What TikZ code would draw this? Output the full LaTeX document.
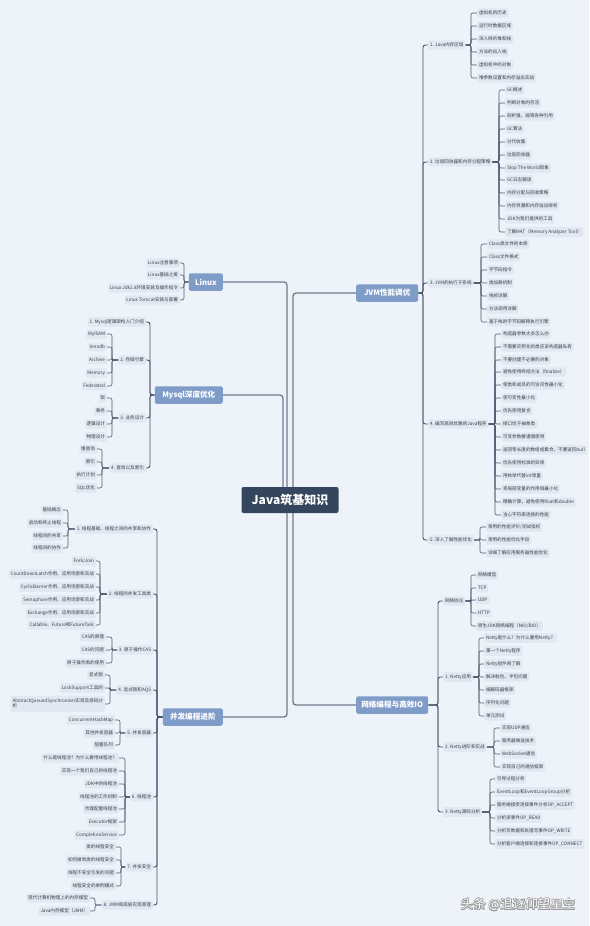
\documentclass[tikz,border=0pt]{standalone}
\usepackage{fontspec}
\setmainfont{Noto Sans CJK SC}
\usepackage{contour}
\usetikzlibrary{backgrounds}
\definecolor{bg}{HTML}{EEF3FA}
\definecolor{leaffill}{HTML}{E1E8F1}
\definecolor{txt}{HTML}{3A3F48}
\definecolor{mainfill}{HTML}{7F9CC8}
\definecolor{ctrfill}{HTML}{34465E}
\definecolor{lline}{HTML}{4D5B70}
\definecolor{sline}{HTML}{44536A}
\definecolor{mline}{HTML}{6E7B8E}
\newcommand\rleaf[7][lconn]{%
  \node[leaf,anchor=west] (#2) at (#5,#6) {#7};
  \begin{scope}[on background layer]\draw[#1] (#3.east) -- (#4,0 |- #3.east) |- (#2.west);\end{scope}}
\newcommand\lleaf[7][lconn]{%
  \node[leaf,anchor=east] (#2) at (#5,#6) {#7};
  \begin{scope}[on background layer]\draw[#1] (#3.west) -- (#4,0 |- #3.west) |- (#2.east);\end{scope}}
\begin{document}
\begin{tikzpicture}[x=1pt,y=-1pt,
  leaf/.style={font=\fontsize{4.6}{5.6}\selectfont, text=txt, fill=leaffill, rounded corners=1.5pt, inner xsep=1.8pt, inner ysep=2.5pt},
  mainnode/.style={font=\fontsize{7.6}{9}\selectfont\bfseries, text=white, fill=mainfill, rounded corners=2pt, minimum height=17.5pt, inner sep=2pt},
  lconn/.style={draw=lline, line width=0.6pt, rounded corners=2pt},
  sconn/.style={draw=sline, line width=0.9pt, rounded corners=2.5pt},
  mconn/.style={draw=mline, line width=1.3pt, rounded corners=3pt}]
\useasboundingbox (0,0) rectangle (589,926);
\begin{scope}[on background layer]
\fill[bg] (0,0) rectangle (589,926);
\end{scope}

% centre and main branches
\node[fill=ctrfill, text=white, font=\fontsize{12}{14}\selectfont\bfseries, minimum width=97pt, minimum height=26pt, rounded corners=2pt] (ctr) at (290,500) {Java筑基知识};
\node[mainnode,minimum width=34pt,anchor=east] (linux) at (223,282) {Linux};
\node[mainnode,minimum width=68pt,anchor=east] (mysql) at (223,395) {Mysql深度优化};
\node[mainnode,minimum width=60pt,anchor=east] (conc) at (223,717) {并发编程进阶};
\node[mainnode,minimum width=62pt,anchor=west] (jvm) at (356,293) {JVM性能调优};
\node[mainnode,minimum width=72pt,anchor=west] (net) at (356,705) {网络编程与高效IO};
\begin{scope}[on background layer]
\draw[mconn] (ctr.center -| 287,0) |- (linux.east);
\draw[mconn] (ctr.center -| 287,0) |- (conc.east);
\draw[mconn] (ctr.center -| 283,0) |- (mysql.east);
\draw[mconn] (ctr.center -| 293,0) |- (jvm.west);
\draw[mconn] (ctr.center -| 293,0) |- (net.west);
\end{scope}

% ---------------- JVM ----------------
\rleaf[sconn]{j1}{jvm}{423}{428}{45}{1. Java内存区域}
\rleaf[sconn]{j2}{jvm}{423}{428}{162}{2. 垃圾回收器和内存分配策略}
\rleaf[sconn]{j3}{jvm}{423}{428}{283}{3. JVM的执行子系统}
\rleaf[sconn]{j4}{jvm}{423}{428}{424}{4. 编写高效优雅的Java程序}
\rleaf[sconn]{j5}{jvm}{423}{428}{540}{5. 深入了解性能优化}

\rleaf{j1a}{j1}{471}{477}{13}{虚拟机的历史}
\rleaf{j1b}{j1}{471}{477}{26}{运行时数据区域}
\rleaf{j1c}{j1}{471}{477}{39}{深入辨析堆和栈}
\rleaf{j1d}{j1}{471}{477}{52}{方法的出入栈}
\rleaf{j1e}{j1}{471}{477}{65}{虚拟机中的对象}
\rleaf{j1f}{j1}{471}{477}{78}{堆参数设置和内存溢出实战}

\rleaf{j2a}{j2}{499}{505}{90}{GC概述}
\rleaf{j2b}{j2}{499}{505}{103}{判断对象的存活}
\rleaf{j2c}{j2}{499}{505}{116}{剖析强、弱等各种引用}
\rleaf{j2d}{j2}{499}{505}{129}{GC算法}
\rleaf{j2e}{j2}{499}{505}{142}{分代收集}
\rleaf{j2f}{j2}{499}{505}{155}{垃圾回收器}
\rleaf{j2g}{j2}{499}{505}{168}{Stop The World现象}
\rleaf{j2h}{j2}{499}{505}{180}{GC日志解读}
\rleaf{j2i}{j2}{499}{505}{193}{内存分配与回收策略}
\rleaf{j2j}{j2}{499}{505}{206}{内存泄漏和内存溢出辨析}
\rleaf{j2k}{j2}{499}{505}{219}{JDK为我们提供的工具}
\rleaf{j2l}{j2}{499}{505}{232}{了解MAT（Memory Analyzer Tool）}

\rleaf{j3a}{j3}{481}{487}{244}{Class类文件的本质}
\rleaf{j3b}{j3}{481}{487}{257}{Class文件格式}
\rleaf{j3c}{j3}{481}{487}{270}{字节码指令}
\rleaf{j3d}{j3}{481}{487}{283}{类加载机制}
\rleaf{j3e}{j3}{481}{487}{296}{栈帧详解}
\rleaf{j3f}{j3}{481}{487}{309}{方法调用详解}
\rleaf{j3g}{j3}{481}{487}{322}{基于栈的字节码解释执行引擎}

\rleaf{j4a}{j4}{495}{501}{334}{构造器参数太多怎么办}
\rleaf{j4b}{j4}{495}{501}{347}{不需要实例化的类应该构造器私有}
\rleaf{j4c}{j4}{495}{501}{360}{不要创建不必要的对象}
\rleaf{j4d}{j4}{495}{501}{372}{避免使用终结方法（finalize）}
\rleaf{j4e}{j4}{495}{501}{385}{使类和成员的可访问性最小化}
\rleaf{j4f}{j4}{495}{501}{398}{使可变性最小化}
\rleaf{j4g}{j4}{495}{501}{411}{优先使用复合}
\rleaf{j4h}{j4}{495}{501}{424}{接口优于抽象类}
\rleaf{j4i}{j4}{495}{501}{437}{可变参数要谨慎使用}
\rleaf{j4j}{j4}{495}{501}{450}{返回零长度的数组或集合，不要返回null}
\rleaf{j4k}{j4}{495}{501}{463}{优先使用标准的异常}
\rleaf{j4l}{j4}{495}{501}{476}{用枚举代替int常量}
\rleaf{j4m}{j4}{495}{501}{489}{将局部变量的作用域最小化}
\rleaf{j4n}{j4}{495}{501}{502}{精确计算，避免使用float和double}
\rleaf{j4o}{j4}{495}{501}{515}{当心字符串连接的性能}

\rleaf{j5a}{j5}{480}{486}{527}{常用的性能评价/测试指标}
\rleaf{j5b}{j5}{480}{486}{540}{常用的性能优化手段}
\rleaf{j5c}{j5}{480}{486}{553}{详细了解应用服务器性能优化}

% ---------------- Network ----------------
\rleaf[sconn]{n0}{net}{438}{443}{601}{网络协议}
\rleaf[sconn]{n1}{net}{438}{443}{677}{1. Netty应用}
\rleaf[sconn]{n2}{net}{438}{443}{747}{2. Netty进阶和实战}
\rleaf[sconn]{n3}{net}{438}{443}{812}{3. Netty源码分析}

\rleaf{n0a}{n0}{471}{476}{575}{网络模型}
\rleaf{n0b}{n0}{471}{476}{588}{TCP}
\rleaf{n0c}{n0}{471}{476}{600}{UDP}
\rleaf{n0d}{n0}{471}{476}{613}{HTTP}
\rleaf{n0e}{n0}{471}{476}{626}{原生JDK网络编程（NIO/BIO）}

\rleaf{n1a}{n1}{479}{484}{638}{Netty是什么？为什么要用Netty？}
\rleaf{n1b}{n1}{479}{484}{651}{第一个Netty程序}
\rleaf{n1c}{n1}{479}{484}{664}{Netty组件再了解}
\rleaf{n1d}{n1}{479}{484}{677}{解决粘包、半包问题}
\rleaf{n1e}{n1}{479}{484}{690}{编解码器框架}
\rleaf{n1f}{n1}{479}{484}{703}{序列化问题}
\rleaf{n1g}{n1}{479}{484}{716}{单元测试}

\rleaf{n2a}{n2}{494}{500}{728}{实现UDP通信}
\rleaf{n2b}{n2}{494}{500}{741}{服务器推送技术}
\rleaf{n2c}{n2}{494}{500}{754}{WebSocket通信}
\rleaf{n2d}{n2}{494}{500}{767}{实现自己的通信框架}

\rleaf{n3a}{n3}{490}{495}{779}{引导过程分析}
\rleaf{n3b}{n3}{490}{495}{792}{EventLoop和EventLoopGroup分析}
\rleaf{n3c}{n3}{490}{495}{805}{服务端接受连接事件分析OP\_ACCEPT}
\rleaf{n3d}{n3}{490}{495}{818}{分析读事件OP\_READ}
\rleaf{n3e}{n3}{490}{495}{831}{分析写数据和处理写事件OP\_WRITE}
\rleaf{n3f}{n3}{490}{495}{844}{分析客户端连接和连接事件OP\_CONNECT}

% ---------------- Linux ----------------
\lleaf{la}{linux}{184}{180}{263}{Linux注意事项}
\lleaf{lb}{linux}{184}{180}{275}{Linux基础之美}
\lleaf{lc}{linux}{184}{180}{288}{Linux Jdk1.8环境安装及操作指令}
\lleaf{ld}{linux}{184}{180}{300}{Linux Tomcat安装与部署}

% ---------------- Mysql ----------------
\lleaf[sconn]{m1}{mysql}{150}{146}{322}{1. Mysql逻辑架构入门介绍}
\lleaf[sconn]{m2}{mysql}{150}{146}{360}{2. 存储引擎}
\lleaf[sconn]{m3}{mysql}{150}{146}{418}{3. 业务设计}
\lleaf[sconn]{m4}{mysql}{150}{146}{468}{4. 查询以及索引}

\lleaf{m2a}{m2}{112}{107}{334}{MyISAM}
\lleaf{m2b}{m2}{112}{107}{347}{Innodb}
\lleaf{m2c}{m2}{112}{107}{360}{Archive}
\lleaf{m2d}{m2}{112}{107}{373}{Memory}
\lleaf{m2e}{m2}{112}{107}{386}{Federated}

\lleaf{m3a}{m3}{112}{107}{398}{锁}
\lleaf{m3b}{m3}{112}{107}{411}{事务}
\lleaf{m3c}{m3}{112}{107}{424}{逻辑设计}
\lleaf{m3d}{m3}{112}{107}{437}{物理设计}

\lleaf{m4a}{m4}{102}{97}{449}{慢查询}
\lleaf{m4b}{m4}{102}{97}{462}{索引}
\lleaf{m4c}{m4}{102}{97}{475}{执行计划}
\lleaf{m4d}{m4}{102}{97}{488}{SQL优化}

% ---------------- Concurrency ----------------
\lleaf[sconn]{c1}{conc}{157}{153}{529}{1. 线程基础、线程之间的共享和协作}
\lleaf[sconn]{c2}{conc}{157}{153}{594}{2. 线程的并发工具类}
\lleaf[sconn]{c3}{conc}{157}{153}{650}{3. 原子操作CAS}
\lleaf[sconn]{c4}{conc}{157}{153}{690}{4. 显式锁和AQS}
\lleaf[sconn]{c5}{conc}{157}{153}{733}{5. 并发容器}
\lleaf[sconn]{c6}{conc}{157}{153}{797}{6. 线程池}
\lleaf[sconn]{c7}{conc}{157}{153}{867}{7. 并发安全}
\lleaf[sconn]{c8}{conc}{157}{153}{905}{8. JMM和底层实现原理}

\lleaf{c1a}{c1}{68}{63}{510}{基础概念}
\lleaf{c1b}{c1}{68}{63}{523}{启动和终止线程}
\lleaf{c1c}{c1}{68}{63}{536}{线程间的共享}
\lleaf{c1d}{c1}{68}{63}{548}{线程间的协作}

\lleaf{c2a}{c2}{100}{96}{561}{Fork/Join}
\lleaf{c2b}{c2}{100}{96}{574}{CountDownLatch作用、应用场景和实战}
\lleaf{c2c}{c2}{100}{96}{587}{CyclicBarrier作用、应用场景和实战}
\lleaf{c2d}{c2}{100}{96}{600}{Semaphore作用、应用场景和实战}
\lleaf{c2e}{c2}{100}{96}{613}{Exchange作用、应用场景和实战}
\lleaf{c2f}{c2}{100}{96}{625}{Callable、Future和FutureTask}

\lleaf{c3a}{c3}{112}{106}{637}{CAS的原理}
\lleaf{c3b}{c3}{112}{106}{650}{CAS的问题}
\lleaf{c3c}{c3}{112}{106}{663}{原子操作类的使用}

\lleaf{c4a}{c4}{110}{105}{675}{显式锁}
\lleaf{c4b}{c4}{110}{105}{688}{LockSupport工具的}
\lleaf{c4c}{c4}{110}{105}{704}{\begin{tabular}{@{}l@{}}AbstractQueuedSynchronizer实现及源码分\\析\end{tabular}}

\lleaf{c5a}{c5}{120}{115}{720}{ConcurrentHashMap}
\lleaf{c5b}{c5}{120}{115}{733}{其他并发容器}
\lleaf{c5c}{c5}{120}{115}{745}{阻塞队列}

\lleaf{c6a}{c6}{125}{119}{758}{什么是线程池？为什么要用线程池？}
\lleaf{c6b}{c6}{125}{119}{771}{实现一个我们自己的线程池}
\lleaf{c6c}{c6}{125}{119}{784}{JDK中的线程池}
\lleaf{c6d}{c6}{125}{119}{797}{线程池的工作机制}
\lleaf{c6e}{c6}{125}{119}{809}{合理配置线程池}
\lleaf{c6f}{c6}{125}{119}{822}{Executor框架}
\lleaf{c6g}{c6}{125}{119}{835}{CompletionService}

\lleaf{c7a}{c7}{121}{116}{847}{类的线程安全}
\lleaf{c7b}{c7}{121}{116}{860}{如何做到类的线程安全}
\lleaf{c7c}{c7}{121}{116}{873}{线程不安全引发的问题}
\lleaf{c7d}{c7}{121}{116}{886}{线程安全的单例模式}

\lleaf{c8a}{c8}{95}{90}{898}{现代计算机物理上的内存模型}
\lleaf{c8b}{c8}{95}{90}{911}{Java内存模型（JMM）}

% watermark
\node[font=\fontsize{12.5}{14}\selectfont, text=white, anchor=east] (wm) at (579,905) {\contourlength{0.5pt}\contour{gray!80}{头条 @追逐仰望星空}};
\end{tikzpicture}
\end{document}
